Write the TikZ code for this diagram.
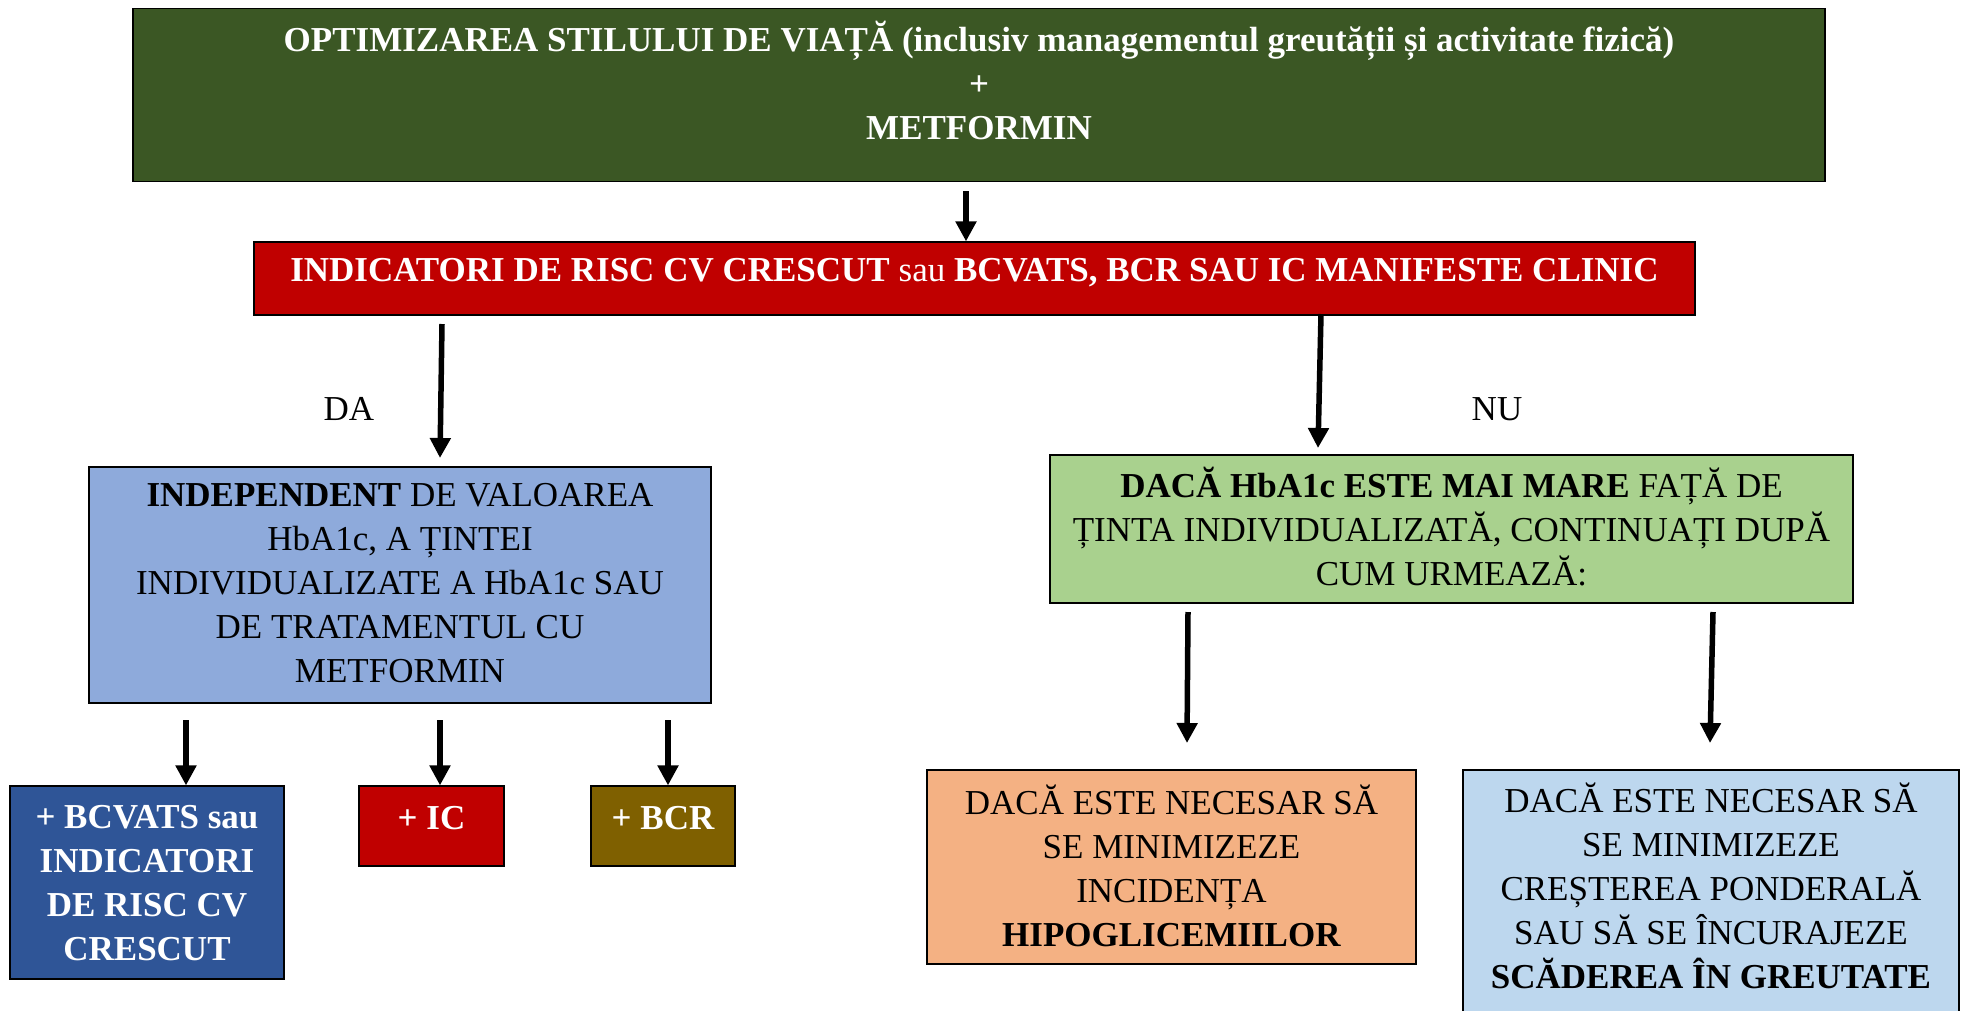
\documentclass[tikz,border=0pt]{standalone}
\usepackage{fontspec}
\setmainfont{Liberation Serif}
\usetikzlibrary{arrows.meta}
\definecolor{topgreen}{HTML}{3B5724}
\definecolor{darkred}{HTML}{C00000}
\definecolor{midblue}{HTML}{8EAADB}
\definecolor{lightgreen}{HTML}{A9D18E}
\definecolor{deepblue}{HTML}{2F5597}
\definecolor{olivebrown}{HTML}{7F6000}
\definecolor{peach}{HTML}{F4B183}
\definecolor{paleblue}{HTML}{BDD7EE}
\begin{document}
\begin{tikzpicture}[x=1pt,y=-1pt,
  box/.style={draw=black,line width=1.2pt,inner sep=0pt},
  txt/.style={align=center,inner sep=0pt,font=\fontsize{35}{44}\selectfont},
  wtxt/.style={txt,text=white,font=\fontsize{35}{44}\selectfont\bfseries},
  flow/.style={line width=5.5pt,-{Triangle[width=20pt,length=20pt]}}]
\useasboundingbox (0,0) rectangle (1969,1010);

% boxes
\node[box,fill=topgreen,minimum width=1692pt,minimum height=173pt] (top) at (979,95) {};
\node[box,fill=darkred,minimum width=1441pt,minimum height=73pt] (risk) at (974.5,278.5) {};
\node[box,fill=midblue,minimum width=622pt,minimum height=236pt] (indep) at (400,585) {};
\node[box,fill=lightgreen,minimum width=803pt,minimum height=148pt] (hba) at (1451.5,529) {};
\node[box,fill=deepblue,minimum width=274pt,minimum height=193pt] (bcv) at (147,882.5) {};
\node[box,fill=darkred,minimum width=145pt,minimum height=80pt] (ic) at (431.5,826) {};
\node[box,fill=olivebrown,minimum width=144pt,minimum height=80pt] (bcr) at (663,826) {};
\node[box,fill=peach,minimum width=489pt,minimum height=194pt] (hypo) at (1171.5,867) {};
\node[box,fill=paleblue,minimum width=496pt,minimum height=250pt] (weight) at (1711,895) {};

% texts
\node[wtxt] (toptxt) at (979,80) {OPTIMIZAREA STILULUI DE VIAȚĂ (inclusiv managementul greutății și activitate fizică)\\+\\METFORMIN};
\node[wtxt] (risktxt) at (974.5,273) {INDICATORI DE RISC CV CRESCUT \mdseries sau \bfseries BCVATS, BCR SAU IC MANIFESTE CLINIC};
\node[txt] (indeptxt) at (400,583) {\textbf{INDEPENDENT} DE VALOAREA\\HbA1c, A ȚINTEI\\INDIVIDUALIZATE A HbA1c SAU\\DE TRATAMENTUL CU\\METFORMIN};
\node[txt] (hbatxt) at (1451.5,527) {\textbf{DACĂ HbA1c ESTE MAI MARE} FAȚĂ DE\\ȚINTA INDIVIDUALIZATĂ, CONTINUAȚI DUPĂ\\CUM URMEAZĂ:};
\node[wtxt] (bcvtxt) at (147,883) {+ BCVATS sau\\INDICATORI\\DE RISC CV\\CRESCUT};
\node[wtxt] (ictxt) at (431.5,818) {+ IC};
\node[wtxt] (bcrtxt) at (663,818) {+ BCR};
\node[txt] (hypotxt) at (1171.5,866) {DACĂ ESTE NECESAR SĂ\\SE MINIMIZEZE\\INCIDENȚA\\\textbf{HIPOGLICEMIILOR}};
\node[txt] (weighttxt) at (1711,886) {DACĂ ESTE NECESAR SĂ\\SE MINIMIZEZE\\CREȘTEREA PONDERALĂ\\SAU SĂ SE ÎNCURAJEZE\\\textbf{SCĂDEREA ÎN GREUTATE}};
\node[txt] (da) at (349,409) {DA};
\node[txt] (nu) at (1497,409) {NU};

% connector ends
\coordinate (s0) at (966,191);
\coordinate (s1) at (442,324);
\coordinate (e1) at (440,458);
\coordinate (s2) at (1321,314);
\coordinate (e2) at (1318,448);
\coordinate (s3) at (186,720);
\coordinate (s4) at (440,720);
\coordinate (s5) at (668,720);
\coordinate (s6) at (1188,612);
\coordinate (e6) at (1187,743);
\coordinate (s7) at (1713,612);
\coordinate (e7) at (1710,743);

% connectors
\draw[flow] (s0) -- (s0 |- risk.north);
\draw[flow] (s1) -- (e1);
\draw[flow] (s2) -- (e2);
\draw[flow] (s3) -- (s3 |- bcv.north);
\draw[flow] (s4) -- (s4 |- ic.north);
\draw[flow] (s5) -- (s5 |- bcr.north);
\draw[flow] (s6) -- (e6);
\draw[flow] (s7) -- (e7);
\end{tikzpicture}
\end{document}
